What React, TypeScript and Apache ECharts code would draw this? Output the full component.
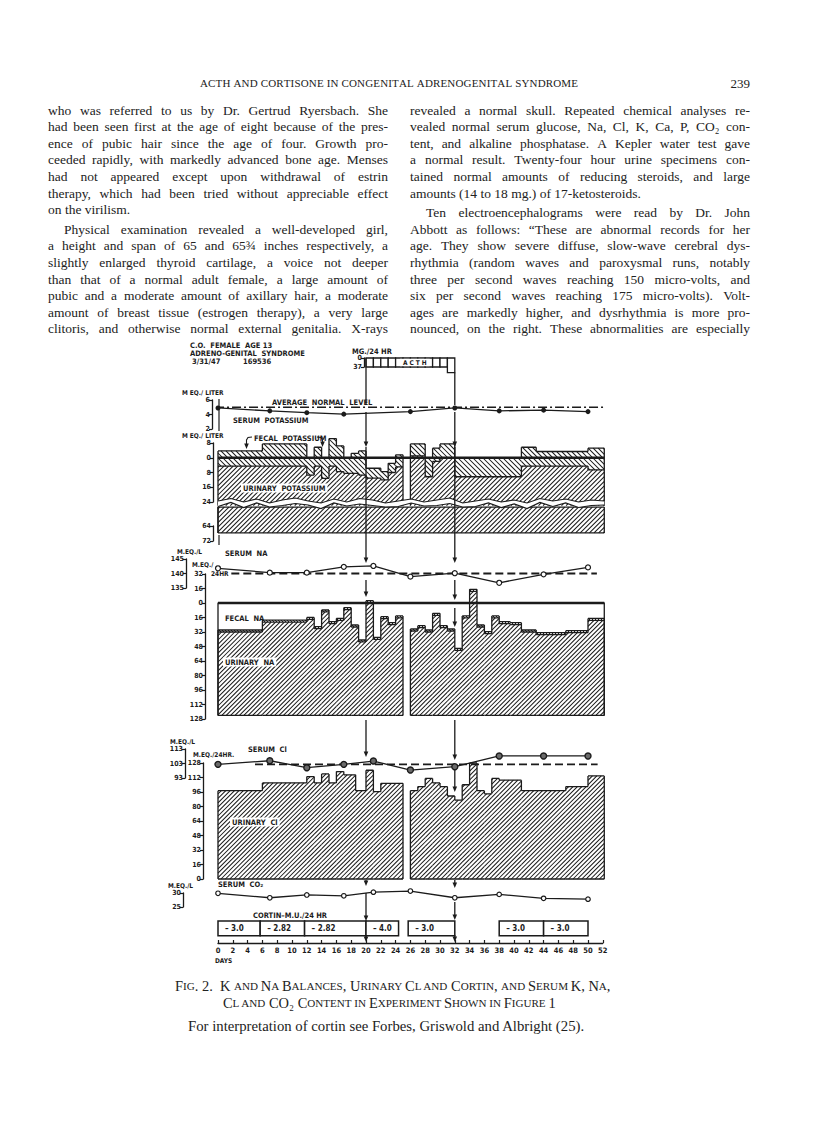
import React, { useEffect, useRef } from "react";
import * as echarts from "echarts";

// ------------------------------------------------------------------ data
const acthDays = [20, 21, 22, 23, 24, 25, 26, 27, 28, 29, 30, 31];
const acthDose = [37, 37, 37, 37, 37, 37, 37, 37, 37, 37, 37, 60];

const serumKDays = [0, 7, 12, 17, 26, 32, 38, 44, 50];
const serumK = [4.9, 4.5, 4.25, 4.05, 4.4, 4.9, 4.5, 4.6, 4.4];
const averageNormalK = 5.0;

const kStart = [0, 6, 12, 13, 14, 15, 16, 17, 18, 19, 20, 22, 23, 24, 26, 28, 29, 30, 32, 41, 43, 50];
const kEnd = [6, 12, 13, 14, 15, 16, 17, 18, 19, 20, 22, 23, 24, 25, 28, 29, 30, 32, 41, 43, 50, 52.2];
const kUrinaryTop = [-4.5, -4.5, -9.4, -4.5, -11.2, -4.5, -7.5, -8.5, -8.5, -9.4, -11, -12, -8, -5, 1, -10.3, -2, 0, -10.3, -4.5, -4.5, -6.6];
const kFecalTop = [3.7, 7.5, 0, 5.7, 0, 10.4, 6.4, 0, 2.4, 3.7, -5.7, -7.5, -3, 1.6, 7.5, 0, 5.2, 7.5, 0, 5.7, 3.4, 5.2];
const kBreak = -26;
const kLowerBottom = -67.7;
const kLowerTop = -53.9;

const serumNaDays = [0, 7, 12, 17, 21, 26, 32, 38, 44, 50];
const serumNa = [141.8, 140.3, 140.3, 142.3, 142.6, 138.9, 140.1, 136.8, 139.7, 142.1];
const normalNa = 140;

const naStart = [0, 6, 12, 13, 14, 15, 16, 17, 18, 19, 20, 21, 22, 23, 24, 26, 27, 28, 29, 30, 31, 32, 33, 34, 35, 36, 37, 38, 39.5, 41, 43, 47, 50];
const naEnd = [6, 12, 13, 14, 15, 16, 17, 18, 19, 20, 21, 22, 23, 24, 25, 27, 28, 29, 30, 31, 32, 33, 34, 35, 36, 37, 38, 39.5, 41, 43, 47, 50, 52.2];
const naTotalTop = [-29.8, -18.8, -15.9, -26.1, -7.7, -20.6, -17, -5.2, -24.3, -40.8, 2.6, -37.9, -15.1, -21.7, -14.3, -28.7, -25, -29.8, -11.4, -25, -28.7, -50, -14.3, 15.1, -24.3, -31.6, -14.3, -20.6, -21.7, -29.8, -32.7, -30.5, -17];
const naFecal = [2.2, 2.2, 2.2, 2.2, 2.2, 2.2, 2.2, 2.2, 2.2, 2.2, 2.2, 2.2, 2.2, 2.2, 2.2, 2.2, 2.2, 2.2, 2.2, 2.2, 2.2, 2.2, 2.2, 2.2, 2.2, 2.2, 2.2, 2.2, 2.2, 2.2, 2.2, 2.2, 2.2];
const naIntake = -124;

const serumClDays = [0, 7, 12, 17, 21, 26, 32, 38, 44, 50];
const serumCl = [102.4, 104.9, 100.1, 102.4, 104.7, 98.5, 100.8, 108.2, 108.2, 108.2];
const normalCl = 102.4;

const clStart = [0, 6, 12, 13, 14, 15, 16, 17, 18.6, 20, 21, 22, 26, 27, 28, 29, 30, 31, 32, 33, 34, 35, 36, 37, 38, 41, 47, 50];
const clEnd = [6, 12, 13, 14, 15, 16, 17, 18.6, 20, 21, 22, 25, 27, 28, 29, 30, 31, 32, 33, 34, 35, 36, 37, 38, 41, 47, 50, 52.2];
const clUrinary = [97.5, 106, 113, 106, 116, 106, 118.5, 115, 97.5, 120, 96.4, 105.6, 97.5, 102, 111, 106, 102, 91.6, 87, 104, 128, 97.5, 94, 111, 109, 97.5, 102, 113.7];

const serumCO2Days = [0, 7, 12, 17, 21, 26, 32, 38, 44, 50];
const serumCO2 = [29.9, 28.3, 29.3, 29.0, 30.3, 30.7, 28.3, 29.5, 28.1, 27.8];

const cortinStart = [0, 5.7, 11.7, 20, 25.7, 38, 44];
const cortinEnd = [5.7, 11.7, 20, 24.4, 32, 44, 50];
const cortinDose = [-3.0, -2.82, -2.82, -4.0, -3.0, -3.0, -3.0];

// ------------------------------------------------------------------ text
const headerText = "ACTH AND CORTISONE IN CONGENITAL ADRENOGENITAL SYNDROME";
const pageNumber = "239";
const leftColumn = [
  "who was referred to us by Dr. Gertrud Ryersbach. She",
  "had been seen first at the age of eight because of the pres-",
  "ence of pubic hair since the age of four. Growth pro-",
  "ceeded rapidly, with markedly advanced bone age. Menses",
  "had not appeared except upon withdrawal of estrin",
  "therapy, which had been tried without appreciable effect",
  "on the virilism.",
  "Physical examination revealed a well-developed girl,",
  "a height and span of 65 and 65\u00be inches respectively, a",
  "slightly enlarged thyroid cartilage, a voice not deeper",
  "than that of a normal adult female, a large amount of",
  "pubic and a moderate amount of axillary hair, a moderate",
  "amount of breast tissue (estrogen therapy), a very large",
  "clitoris, and otherwise normal external genitalia. X-rays",
];
const rightColumn = [
  "revealed a normal skull. Repeated chemical analyses re-",
  "vealed normal serum glucose, Na, Cl, K, Ca, P, CO\u2082 con-",
  "tent, and alkaline phosphatase. A Kepler water test gave",
  "a normal result. Twenty-four hour urine specimens con-",
  "tained normal amounts of reducing steroids, and large",
  "amounts (14 to 18 mg.) of 17-ketosteroids.",
  "Ten electroencephalograms were read by Dr. John",
  "Abbott as follows: \u201cThese are abnormal records for her",
  "age. They show severe diffuse, slow-wave cerebral dys-",
  "rhythmia (random waves and paroxysmal runs, notably",
  "three per second waves reaching 150 micro-volts, and",
  "six per second waves reaching 175 micro-volts). Volt-",
  "ages are markedly higher, and dysrhythmia is more pro-",
  "nounced, on the right. These abnormalities are especially",
];
const captionLine1 = "Fig. 2.  K and Na Balances, Urinary Cl and Cortin, and Serum K, Na,";
const captionLine2 = "Cl and CO\u2082 Content in Experiment Shown in Figure 1";
const captionLine3 = "For interpretation of cortin see Forbes, Griswold and Albright (25).";

// ------------------------------------------------------------------ layout
const INK = "#1b1b1b";
const FONT_FIG = '"Liberation Sans Narrow","DejaVu Sans Condensed","DejaVu Sans",sans-serif';
const FONT_BODY = '"Liberation Serif","DejaVu Serif",serif';
const GL = 218;
const DAY_PX = 7.4;
const GR = 816 - (GL + 52 * DAY_PX);

function hatch(x1: number, y1: number, x2: number, y2: number, s: number, dir: string) {
  let d = "";
  if (x2 - x1 < 0.3 || y2 - y1 < 0.3) return d;
  if (dir === "/") {
    for (let c = Math.ceil((x1 + y1) / s) * s; c <= x2 + y2; c += s) {
      const xa = Math.max(x1, c - y2), xb = Math.min(x2, c - y1);
      if (xb - xa > 0.15) d += `M${xa.toFixed(2)} ${(c - xa).toFixed(2)}L${xb.toFixed(2)} ${(c - xb).toFixed(2)}`;
    }
  } else {
    for (let c = Math.ceil((x1 - y2) / s) * s; c <= x2 - y1; c += s) {
      const xa = Math.max(x1, c + y1), xb = Math.min(x2, c + y2);
      if (xb - xa > 0.15) d += `M${xa.toFixed(2)} ${(xa - c).toFixed(2)}L${xb.toFixed(2)} ${(xb - c).toFixed(2)}`;
    }
  }
  return d;
}

function stepRenderer(st: any[], opt: any) {
  return (params: any, api: any) => {
    const i = params.dataIndex;
    const o = st[i];
    const X = (d: number) => api.coord([d, 0])[0];
    const Y = (v: number) => api.coord([0, v])[1];
    const x1 = X(o.s), x2 = X(o.e), yb = Y(o.b), yu = Y(o.u), yf = Y(o.f);
    const hasTop = o.f > o.u + 1e-9;
    const children: any[] = [];
    const h1 = hatch(x1, yu, x2, yb, opt.s1, "/");
    if (h1) children.push({ type: "path", shape: { pathData: h1 }, style: { fill: "none", stroke: INK, lineWidth: opt.w1 } });
    if (hasTop) {
      const h2 = hatch(x1, yf, x2, yu, opt.s2, opt.d2);
      if (h2) children.push({ type: "path", shape: { pathData: h2 }, style: { fill: "none", stroke: INK, lineWidth: opt.w2 } });
    }
    let d = `M${x1} ${yf}L${x2} ${yf}`;
    if (hasTop) d += `M${x1} ${yu}L${x2} ${yu}`;
    const p = st[i - 1], n = st[i + 1];
    const joinP = p && Math.abs(p.e - o.s) < 1e-6;
    const joinN = n && Math.abs(n.s - o.e) < 1e-6;
    if (joinP) {
      d += `M${x1} ${Y(p.f)}L${x1} ${yf}`;
      if (hasTop || p.f > p.u) d += `M${x1} ${Y(p.u)}L${x1} ${yu}`;
    } else d += `M${x1} ${yb}L${x1} ${yf}`;
    if (!joinN) d += `M${x2} ${yf}L${x2} ${yb}`;
    if (opt.bottom) d += `M${x1} ${yb}L${x2} ${yb}`;
    children.push({ type: "path", shape: { pathData: d }, style: { fill: "none", stroke: INK, lineWidth: opt.ow } });
    return { type: "group", children };
  };
}

function stepSeries(gi: number, st: any[], opt: any) {
  return {
    type: "custom",
    xAxisIndex: gi,
    yAxisIndex: gi,
    silent: true,
    clip: false,
    z: 2,
    encode: { x: [0, 1], y: [2, 3, 4] },
    data: st.map((o) => [o.s, o.e, o.b, o.u, o.f]),
    renderItem: stepRenderer(st, opt),
  };
}

function yAx(gi: number, min: number, max: number, interval: number, offset: number, show = true) {
  return {
    type: "value",
    gridIndex: gi,
    min,
    max,
    interval,
    offset,
    position: "left",
    show,
    axisLine: { show: true, onZero: false, lineStyle: { color: INK, width: 1.3 } },
    axisTick: { show: true, length: 3, lineStyle: { color: INK, width: 1.2 } },
    axisLabel: {
      show: true,
      color: INK,
      fontSize: 7,
      fontWeight: "bold",
      fontFamily: FONT_FIG,
      margin: 2,
      showMinLabel: true,
      showMaxLabel: true,
      formatter: (v: number) => String(Math.abs(Math.round(v * 100) / 100)),
    },
    splitLine: { show: false },
  };
}

function xAx(gi: number, min = 0, max = 52) {
  return { type: "value", gridIndex: gi, min, max, show: false, splitLine: { show: false } };
}

function serumLine(gi: number, days: number[], vals: number[], sym: any) {
  return {
    type: "line",
    xAxisIndex: gi,
    yAxisIndex: gi,
    data: days.map((d, i) => [d, vals[i]]),
    clip: false,
    silent: true,
    z: 5,
    lineStyle: { color: INK, width: 1.3 },
    ...sym,
  };
}

function refLine(gi: number, pts: number[][], type: any, width: number) {
  return {
    type: "line",
    xAxisIndex: gi,
    yAxisIndex: gi,
    data: pts,
    clip: false,
    silent: true,
    symbol: "none",
    z: 4,
    lineStyle: { color: INK, width, type },
  };
}

function buildOption() {
  const g = (top: number, height: number, left = GL) => ({ left, right: GR, top, height, containLabel: false, outerBoundsMode: "none" });
  const grids = [
    g(358, 9, GL + 20 * DAY_PX),
    g(400, 29),
    g(443, 59),
    g(526, 15),
    g(559, 29),
    g(574, 145),
    g(749, 29),
    g(763, 116),
    g(893, 14),
    g(921, 22),
  ];
  const xAxes: any[] = grids.map((_, i) => xAx(i, i === 0 ? 20 : 0, 52));
  xAxes[9] = {
    type: "value",
    gridIndex: 9,
    min: 0,
    max: 52,
    interval: 2,
    position: "bottom",
    axisLine: { show: true, onZero: false, lineStyle: { color: INK, width: 1.4 } },
    axisTick: { show: true, inside: true, length: 3, lineStyle: { color: INK, width: 1.2 } },
    axisLabel: { color: INK, fontSize: 7.5, fontWeight: "bold", fontFamily: FONT_FIG, margin: 3, showMinLabel: true, showMaxLabel: true },
    splitLine: { show: false },
  };
  const acthY: any = yAx(0, 0, 37, 37, 2);
  acthY.inverse = true;
  const yAxes = [
    acthY,
    yAx(1, 2, 6, 2, 6),
    yAx(2, -24, 8, 8, 5),
    yAx(3, -72, -64, 8, 5),
    yAx(4, 135, 145, 5, 32),
    yAx(5, -128, 32, 16, 13),
    yAx(6, 93, 113, 10, 33),
    yAx(7, 0, 128, 16, 15),
    yAx(8, 25, 30, 5, 35),
    yAx(9, 0, 1, 1, 0, false),
  ];

  const kSteps = kStart.map((s, i) => ({ s, e: kEnd[i], b: kBreak, u: kUrinaryTop[i], f: kFecalTop[i] }));
  const kLower = [{ s: 0, e: 52.2, b: kLowerBottom, u: kLowerTop, f: kLowerTop }];
  const naSteps = naStart.map((s, i) => ({ s, e: naEnd[i], b: naIntake, u: naTotalTop[i] - naFecal[i], f: naTotalTop[i] }));
  const clSteps = clStart.map((s, i) => ({ s, e: clEnd[i], b: 0, u: clUrinary[i], f: clUrinary[i] }));

  const series: any[] = [
    {
      type: "custom",
      xAxisIndex: 0,
      yAxisIndex: 0,
      silent: true,
      clip: false,
      encode: { x: 0, y: 1 },
      data: acthDays.map((d, i) => [d, acthDose[i]]),
      renderItem: (params: any, api: any) => {
        const d = api.value(0), v = api.value(1);
        const a = api.coord([d, 0]), b = api.coord([d + 1, v]);
        return {
          type: "rect",
          shape: { x: a[0], y: a[1], width: b[0] - a[0], height: b[1] - a[1] },
          style: { fill: "#fff", stroke: INK, lineWidth: 1.3 },
        };
      },
    },
    refLine(1, [[-0.4, averageNormalK], [52.3, averageNormalK]], [9, 3, 2, 3], 1.4),
    serumLine(1, serumKDays, serumK, { symbol: "circle", symbolSize: 5, itemStyle: { color: INK } }),
    stepSeries(2, kSteps, { s1: 4.6, w1: 1.05, s2: 5, d2: "\\", w2: 1.05, ow: 1.3, bottom: false }),
    refLine(2, [[0, 0], [52.2, 0]], "solid", 2.3),
    stepSeries(3, kLower, { s1: 4.6, w1: 1.05, s2: 5, d2: "\\", w2: 1, ow: 1.3, bottom: true }),
    refLine(4, [[1.8, normalNa], [51.2, normalNa]], [8, 4], 1.8),
    serumLine(4, serumNaDays, serumNa, { symbol: "circle", symbolSize: 5, itemStyle: { color: "#fff", borderColor: INK, borderWidth: 1.2 } }),
    stepSeries(5, naSteps, { s1: 4.4, w1: 1.05, s2: 3, d2: "\\", w2: 1, ow: 1.3, bottom: true }),
    refLine(5, [[0, naIntake], [0, 0], [52.2, 0], [52.2, naIntake]], "solid", 1.3),
    refLine(5, [[0, 0], [52.2, 0]], "solid", 2.6),
    refLine(6, [[5, normalCl], [51.3, normalCl]], [8, 4], 1.8),
    serumLine(6, serumClDays, serumCl, { symbol: "circle", symbolSize: 6, itemStyle: { color: "#6a6a6a", borderColor: INK, borderWidth: 1.4 } }),
    stepSeries(7, clSteps, { s1: 4.4, w1: 1.05, s2: 4, d2: "\\", w2: 1, ow: 1.3, bottom: true }),
    serumLine(8, serumCO2Days, serumCO2, { symbol: "circle", symbolSize: 4.5, itemStyle: { color: "#fff", borderColor: INK, borderWidth: 1.2 } }),
    {
      type: "custom",
      xAxisIndex: 9,
      yAxisIndex: 9,
      silent: true,
      clip: false,
      encode: { x: [0, 1], y: 2 },
      data: cortinStart.map((s, i) => [s, cortinEnd[i], cortinDose[i]]),
      renderItem: (params: any, api: any) => {
        const s = api.value(0), e = api.value(1), v = api.value(2);
        const a = api.coord([s, 1]), b = api.coord([e, 0.33]);
        const abs = Math.abs(v);
        const txt = "\u2013 " + (Math.abs(abs * 10 - Math.round(abs * 10)) < 1e-6 ? abs.toFixed(1) : abs.toFixed(2));
        return {
          type: "group",
          children: [
            { type: "rect", shape: { x: a[0], y: a[1], width: b[0] - a[0], height: b[1] - a[1] }, style: { fill: "#fff", stroke: INK, lineWidth: 1.5 } },
            { type: "text", x: a[0] + 7, y: (a[1] + b[1]) / 2, style: { text: txt, font: `bold 8px ${FONT_FIG}`, fill: INK, align: "left", verticalAlign: "middle" } },
          ],
        };
      },
    },
  ];

  return { animation: false, backgroundColor: "#fff", grid: grids, xAxis: xAxes, yAxis: yAxes, series };
}

// ------------------------------------------------------------------ overlay
function buildGraphic(chart: any) {
  const els: any[] = [];
  const cv = document.createElement("canvas");
  const ctx = cv.getContext("2d") as CanvasRenderingContext2D;
  const measure = (t: string, font: string) => {
    ctx.font = font;
    return ctx.measureText(t).width;
  };
  const txt = (text: string, x: number, y: number, font: string, align = "left", fill = INK, bg?: string) =>
    els.push({
      type: "text",
      x,
      y,
      z: 100,
      silent: true,
      style: bg
        ? { text, font, fill, align, verticalAlign: "middle", backgroundColor: bg, padding: [1, 2, 0, 2] }
        : { text, font, fill, align, verticalAlign: "middle" },
    });

  // --- body columns, justified
  const COL_W = 340;
  const COLS = [
    { lines: leftColumn, x: 48, paraEnd: 6 },
    { lines: rightColumn, x: 410, paraEnd: 5 },
  ];
  const Y0 = 110, LH = 16.6, GAP = 3, INDENT = 16;
  let fs = 13.5;
  const allLines = leftColumn.concat(rightColumn);
  while (fs > 9) {
    const f = `${fs}px ${FONT_BODY}`;
    const mx = Math.max(...allLines.map((l) => measure(l, f)));
    if (mx <= COL_W - 4) break;
    fs -= 0.1;
  }
  const bodyFont = `${fs.toFixed(2)}px ${FONT_BODY}`;
  const spaceW = measure(" ", bodyFont);
  COLS.forEach((col) => {
    col.lines.forEach((line, i) => {
      const y = Y0 + i * LH + (i > col.paraEnd ? GAP : 0);
      const indent = i === col.paraEnd + 1 ? INDENT : 0;
      const words = line.split(" ");
      const ws = words.map((w) => measure(w, bodyFont));
      const sum = ws.reduce((a, b) => a + b, 0);
      const justify = i !== col.paraEnd && words.length > 1;
      const gap = justify ? (COL_W - indent - sum) / (words.length - 1) : spaceW;
      let x = col.x + indent;
      words.forEach((w, k) => {
        txt(w, x, y, bodyFont, "left", "#222");
        x += ws[k] + gap;
      });
    });
  });

  // --- running header, letter spaced
  const hFont = `11px ${FONT_BODY}`;
  const hx1 = 200, hx2 = 578;
  const chars = headerText.split("");
  const cw = chars.map((c) => measure(c, hFont));
  const extra = (hx2 - hx1 - cw.reduce((a, b) => a + b, 0)) / (chars.length - 1);
  let hx = hx1;
  chars.forEach((c, k) => {
    if (c !== " ") txt(c, hx, 83, hFont, "left", "#222");
    hx += cw[k] + extra;
  });
  txt(pageNumber, 750, 83, `13px ${FONT_BODY}`, "right", "#222");

  // --- caption (small caps)
  const smallCaps = (s: string, A: number, B: number) => {
    let out = "";
    let cur = "";
    let kind = "";
    let w = 0;
    const flush = () => {
      if (cur) out += `{${kind}|${cur}}`;
      cur = "";
    };
    for (const ch of s) {
      const k = ch >= "a" && ch <= "z" ? "b" : "a";
      if (k !== kind && ch !== " ") {
        flush();
        kind = k;
      }
      if (!kind) kind = k;
      const c = k === "b" ? ch.toUpperCase() : ch;
      cur += c;
      w += measure(c, `${kind === "b" ? B : A}px ${FONT_BODY}`);
    }
    flush();
    return { text: out, w };
  };
  const c1 = smallCaps(captionLine1, 13, 10);
  const sc = 437 / c1.w;
  const A = 13 * sc, B = 10 * sc;
  const rich = { a: { fontSize: A, fontFamily: FONT_BODY, fill: "#222" }, b: { fontSize: B, fontFamily: FONT_BODY, fill: "#222" } };
  const r1 = smallCaps(captionLine1, A, B);
  const r2 = smallCaps(captionLine2, A, B);
  els.push({ type: "text", x: 175, y: 986, z: 100, silent: true, style: { text: r1.text, rich, align: "left", verticalAlign: "middle" } });
  els.push({ type: "text", x: 223, y: 1003, z: 100, silent: true, style: { text: r2.text, rich, align: "left", verticalAlign: "middle" } });
  const c3w = measure(captionLine3, `13px ${FONT_BODY}`);
  txt(captionLine3, 188, 1026, `${((13 * 397) / c3w).toFixed(2)}px ${FONT_BODY}`, "left", "#222");

  // --- figure labels
  const lf = `bold 7.5px ${FONT_FIG}`;
  const sf = `bold 6.5px ${FONT_FIG}`;
  const figLabels: [string, number, number, string, boolean][] = [
    ["C.O.  FEMALE  AGE 13", 190, 345, lf, false],
    ["ADRENO-GENITAL  SYNDROME", 190, 353, lf, false],
    ["3/31/47", 192, 361, lf, false],
    ["169536", 243, 361, lf, false],
    ["MG./24 HR", 352, 351, lf, false],
    ["M EQ./ LITER", 182, 392.5, sf, false],
    ["AVERAGE  NORMAL  LEVEL", 272, 402.3, lf, false],
    ["SERUM  POTASSIUM", 233, 420, lf, false],
    ["M EQ./ LITER", 182, 436, sf, false],
    ["FECAL  POTASSIUM", 254, 438, lf, false],
    ["URINARY  POTASSIUM", 241, 488, lf, true],
    ["M.EQ./L", 177, 551.5, sf, false],
    ["SERUM  NA", 225, 553, lf, false],
    ["M.EQ./", 192, 565, sf, false],
    ["24HR", 211, 574, sf, false],
    ["FECAL  NA", 225, 618, lf, false],
    ["URINARY  NA", 223, 662, lf, true],
    ["M.EQ./L", 170, 741.5, sf, false],
    ["SERUM  Cl", 248, 749, lf, false],
    ["M.EQ./24HR.", 193, 755, sf, false],
    ["URINARY  Cl", 230, 822, lf, true],
    ["M.EQ./L", 168, 885.5, sf, false],
    ["SERUM  CO\u2082", 218, 884, lf, false],
    ["CORTIN\u2013M.U./24 HR", 253, 915, lf, false],
    ["DAYS", 215, 961, sf, false],
  ];
  figLabels.forEach(([t, x, y, f, knock]) => txt(t, x, y, f, "left", INK, knock ? "#fff" : undefined));

  const P = (gi: number, d: number, v: number) => chart.convertToPixel({ gridIndex: gi }, [d, v]);
  const x0 = P(2, 0, 0)[0];
  const xEnd = P(2, 52.2, 0)[0];
  const X20 = P(1, 20, 4)[0];
  const X32 = P(1, 32, 4)[0];

  // ACTH label inside the dose box
  const acthTop = P(0, 20, 0)[1];
  const acthBot = P(0, 20, 37)[1];
  const ax1 = P(0, 24.6, 0)[0], ax2 = P(0, 28.6, 0)[0];
  els.push({ type: "rect", z: 100, silent: true, shape: { x: ax1, y: acthTop + 0.8, width: ax2 - ax1, height: acthBot - acthTop - 1.6 }, style: { fill: "#fff" } });
  txt("A C T H", (ax1 + ax2) / 2, (acthTop + acthBot) / 2, `bold 6.5px ${FONT_FIG}`, "center");

  const line = (x1: number, y1: number, x2: number, y2: number, w = 1.3) =>
    els.push({ type: "line", z: 100, silent: true, shape: { x1, y1, x2, y2 }, style: { stroke: INK, lineWidth: w } });
  const arrow = (x: number, y: number) =>
    els.push({ type: "polygon", z: 101, silent: true, shape: { points: [[x - 2.3, y - 5.5], [x + 2.3, y - 5.5], [x, y]] }, style: { fill: INK } });

  // ACTH start/stop guide lines with arrows
  const segs20: [number, number, boolean][] = [
    [acthTop, 405, false], [412, 447, true], [447, 533, false], [533, 563, true], [580, 597, true],
    [720, 757, true], [880, 886, true], [893, 921, true], [935, 942, true],
  ];
  const segs32: [number, number, boolean][] = [
    [P(0, 31.5, 60)[1], 405, false], [412, 447, true], [447, 533, false], [533, 563, true], [580, 600, true],
    [608, 627, true], [720, 760, true], [770, 792, true], [880, 888, true], [902, 920, true], [935, 942, true],
  ];
  [[X20, segs20], [X32, segs32]].forEach(([x, segs]: any) => {
    segs.forEach(([y1, y2, ar]: any) => {
      line(x, y1, x, ar ? y2 - 3 : y2);
      if (ar) arrow(x, y2);
    });
  });

  // day-0 guide ticks
  line(x0 + 1, 399, x0 + 1, 431, 1.2);
  line(x0 + 1, 535, x0 + 1, 545, 1.2);

  // fecal potassium pointers
  els.push({ type: "polyline", z: 100, silent: true, shape: { points: [[252, 437], [248, 437.5], [246.5, 440], [246.5, 444]] }, style: { stroke: INK, lineWidth: 1.1, fill: "none" } });
  arrow(246.5, 449);
  els.push({ type: "polyline", z: 100, silent: true, shape: { points: [[317, 437], [321, 437.5], [322.5, 440], [322.5, 442]] }, style: { stroke: INK, lineWidth: 1.1, fill: "none" } });
  arrow(322.5, 447);

  // axis break of the potassium balance (decorative jagged band)
  const jag = [3, 0.5, 4, 1, 5, 2, 0, 3, 5, 1, 4, 0.5, 2, 5, 3, 1, 4, 2, 0, 5, 3, 1, 4, 2, 5, 0.5, 3, 1, 4, 2, 3];
  const yb = P(2, 0, -24)[1];
  const up: number[][] = [];
  const lo: number[][] = [];
  jag.forEach((j, k) => {
    const x = x0 + ((xEnd - x0) * k) / (jag.length - 1);
    up.push([x, yb - 4 + j]);
    lo.push([x, yb - 4 + j + 4 + (jag[(k + 2) % jag.length] > 2.5 ? 1.5 : 0)]);
  });
  els.push({ type: "polygon", z: 99, silent: true, shape: { points: up.concat(lo.slice().reverse()) }, style: { fill: "#fff" } });
  els.push({ type: "polyline", z: 100, silent: true, shape: { points: up }, style: { stroke: INK, lineWidth: 1.2, fill: "none" } });
  els.push({ type: "polyline", z: 100, silent: true, shape: { points: lo }, style: { stroke: INK, lineWidth: 1.2, fill: "none" } });
  line(x0, lo[0][1], x0, P(3, 0, kLowerBottom)[1]);

  return els;
}

export default function App() {
  const ref = useRef<HTMLDivElement>(null);
  useEffect(() => {
    const chart = echarts.init(ref.current as HTMLDivElement, null, { renderer: "svg", width: 816, height: 1121 });
    chart.setOption(buildOption() as any);
    chart.setOption({ graphic: { elements: buildGraphic(chart) } } as any);
    return () => chart.dispose();
  }, []);
  return <div ref={ref} style={{ position: "absolute", left: 0, top: 0, width: 816, height: 1121, background: "#fff" }} />;
}
